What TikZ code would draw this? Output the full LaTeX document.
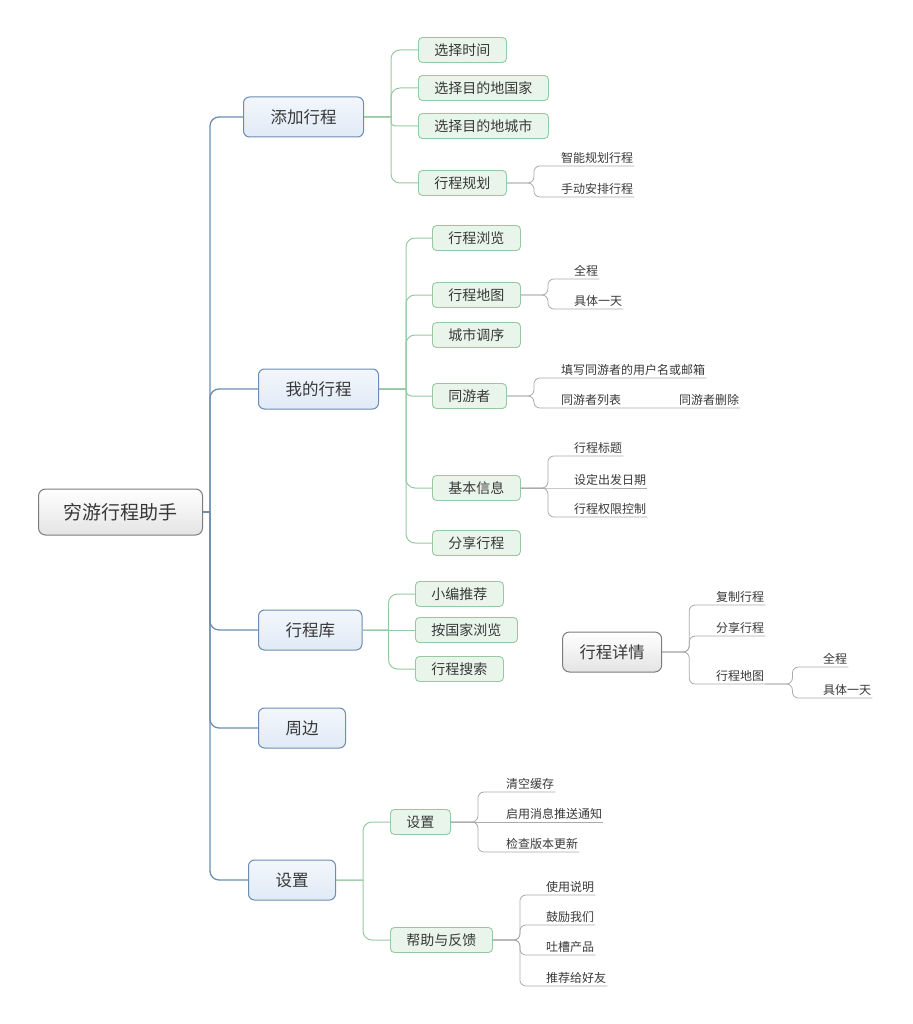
\documentclass[tikz,border=0pt]{standalone}
\usepackage{fontspec}
\setmainfont{Noto Sans CJK SC}
\usepackage{tikz}
\definecolor{txt}{HTML}{383838}
\definecolor{rootline}{HTML}{7C7C7C}
\definecolor{rootfill}{HTML}{E4E4E4}
\definecolor{mainline}{HTML}{6A8DB1}
\definecolor{mainfill}{HTML}{E0EAF6}
\definecolor{subline}{HTML}{96C9A1}
\definecolor{subfill}{HTML}{E9F5EB}
\definecolor{leafline}{HTML}{ABABAB}

\begin{document}
\begin{tikzpicture}[x=1pt, y=-1pt,
        rootbox/.style = {draw=rootline, line width=1pt, rounded corners=7pt, top color=white, bottom color=rootfill, text=txt, anchor=west, minimum height=46pt, inner xsep=25pt, font=\fontsize{19}{22}\selectfont},
        main/.style = {draw=mainline, line width=1pt, rounded corners=6pt, top color=mainfill!40!white, bottom color=mainfill, text=txt, anchor=west, minimum height=40pt, inner xsep=27pt, font=\fontsize{16.5}{20}\selectfont},
        subbox/.style = {draw=subline, line width=0.9pt, rounded corners=4pt, fill=subfill, text=txt, anchor=west, minimum height=25pt, inner xsep=16pt, font=\fontsize{14}{16}\selectfont},
        leaf/.style = {text=txt, anchor=south west, inner xsep=1pt, inner ysep=2pt, font=\fontsize{12}{14}\selectfont},
        trunkline/.style = {draw=mainline, line width=1.3pt},
        subedge/.style = {draw=subline, line width=1pt},
        leafedge/.style = {draw=leafline, line width=0.8pt, rounded corners=6pt}]
                \useasboundingbox (0,0) rectangle (912,1024);
                \node[rootbox] (0) at (38,512) {穷游行程助手};
                \node[main] (1) at (243,117) {添加行程};
                \node[main] (2) at (258,389) {我的行程};
                \node[main] (3) at (258,630) {行程库};
                \node[main] (4) at (258,728) {周边};
                \node[main] (5) at (248,880) {设置};
                \node[rootbox, inner xsep=17pt, minimum height=40pt, font=\fontsize{16.3}{20}\selectfont] (6) at (562,652) {行程详情};
                \node[subbox] (11) at (418,50) {选择时间};
                \node[subbox] (12) at (418,88) {选择目的地国家};
                \node[subbox] (13) at (418,126) {选择目的地城市};
                \node[subbox] (14) at (418,183) {行程规划};
                \node[subbox] (21) at (432,238) {行程浏览};
                \node[subbox] (22) at (432,295) {行程地图};
                \node[subbox] (23) at (432,335) {城市调序};
                \node[subbox] (24) at (432,396) {同游者};
                \node[subbox] (25) at (432,488) {基本信息};
                \node[subbox] (26) at (432,543) {分享行程};
                \node[subbox] (31) at (415,594) {小编推荐};
                \node[subbox] (32) at (415,630) {按国家浏览};
                \node[subbox] (33) at (415,669) {行程搜索};
                \node[subbox] (51) at (390,822) {设置};
                \node[subbox] (52) at (390,940) {帮助与反馈};
                \node[leaf] (141) at (560,166) {智能规划行程};
                \node[leaf] (142) at (560,197) {手动安排行程};
                \node[leaf] (221) at (573,279) {全程};
                \node[leaf] (222) at (573,309) {具体一天};
                \node[leaf] (241) at (560,378) {填写同游者的用户名或邮箱};
                \node[leaf] (242) at (560,408) {同游者列表};
                \node[leaf] (243) at (678,408) {同游者删除};
                \node[leaf] (251) at (573,456) {行程标题};
                \node[leaf] (252) at (573,488) {设定出发日期};
                \node[leaf] (253) at (573,517) {行程权限控制};
                \node[leaf] (511) at (505,792) {清空缓存};
                \node[leaf] (512) at (505,822) {启用消息推送通知};
                \node[leaf] (513) at (505,852) {检查版本更新};
                \node[leaf] (521) at (545,895) {使用说明};
                \node[leaf] (522) at (545,925) {鼓励我们};
                \node[leaf] (523) at (545,955) {吐槽产品};
                \node[leaf] (524) at (545,986) {推荐给好友};
                \node[leaf] (61) at (715,605) {复制行程};
                \node[leaf] (62) at (715,636) {分享行程};
                \node[leaf] (63) at (715,684) {行程地图};
                \node[leaf] (631) at (822,667) {全程};
                \node[leaf] (632) at (822,698) {具体一天};
                \draw[trunkline] (0.east) -- ++(7,0) [rounded corners=9pt] |- (1.west);
                \draw[trunkline] (0.east) -- ++(7,0) [rounded corners=9pt] |- (2.west);
                \draw[trunkline] (0.east) -- ++(7,0) [rounded corners=9pt] |- (3.west);
                \draw[trunkline] (0.east) -- ++(7,0) [rounded corners=9pt] |- (4.west);
                \draw[trunkline] (0.east) -- ++(7,0) [rounded corners=9pt] |- (5.west);
                \draw[subedge] (1.east) -- ++(27,0) [rounded corners=9pt] |- (11.west);
                \draw[subedge] (1.east) -- ++(27,0) [rounded corners=9pt] |- (12.west);
                \draw[subedge] (1.east) -- ++(27,0) [rounded corners=4pt] |- (13.west);
                \draw[subedge] (1.east) -- ++(27,0) [rounded corners=9pt] |- (14.west);
                \draw[subedge] (2.east) -- ++(27,0) [rounded corners=9pt] |- (21.west);
                \draw[subedge] (2.east) -- ++(27,0) [rounded corners=9pt] |- (22.west);
                \draw[subedge] (2.east) -- ++(27,0) [rounded corners=9pt] |- (23.west);
                \draw[subedge] (2.east) -- ++(27,0) [rounded corners=5pt] |- (24.west);
                \draw[subedge] (2.east) -- ++(27,0) [rounded corners=9pt] |- (25.west);
                \draw[subedge] (2.east) -- ++(27,0) [rounded corners=9pt] |- (26.west);
                \draw[subedge] (3.east) -- ++(26,0) [rounded corners=9pt] |- (31.west);
                \draw[subedge] (3.east) -- (32.west);
                \draw[subedge] (3.east) -- ++(26,0) [rounded corners=9pt] |- (33.west);
                \draw[subedge] (5.east) -- ++(27,0) [rounded corners=9pt] |- (51.west);
                \draw[subedge] (5.east) -- ++(27,0) [rounded corners=9pt] |- (52.west);
                \draw[leafedge] (14.east) -- ++(27,0) |- (141.south west) -- (141.south east);
                \draw[leafedge] (14.east) -- ++(27,0) |- (142.south west) -- (142.south east);
                \draw[leafedge] (22.east) -- ++(27,0) |- (221.south west) -- (221.south east);
                \draw[leafedge] (22.east) -- ++(27,0) |- (222.south west) -- (222.south east);
                \draw[leafedge] (24.east) -- ++(27,0) |- (241.south west) -- (241.south east);
                \draw[leafedge] (24.east) -- ++(27,0) |- (242.south west) -- (242.south east) -- (243.south west) -- (243.south east);
                \draw[leafedge] (25.east) -- ++(27,0) |- (251.south west) -- (251.south east);
                \draw[leafedge] (25.east) -- (252.south west) -- (252.south east);
                \draw[leafedge] (25.east) -- ++(27,0) |- (253.south west) -- (253.south east);
                \draw[leafedge] (51.east) -- ++(27,0) |- (511.south west) -- (511.south east);
                \draw[leafedge] (51.east) -- (512.south west) -- (512.south east);
                \draw[leafedge] (51.east) -- ++(27,0) |- (513.south west) -- (513.south east);
                \draw[leafedge] (52.east) -- ++(27,0) |- (521.south west) -- (521.south east);
                \draw[leafedge] (52.east) -- ++(27,0) |- (522.south west) -- (522.south east);
                \draw[leafedge] (52.east) -- ++(27,0) |- (523.south west) -- (523.south east);
                \draw[leafedge] (52.east) -- ++(27,0) |- (524.south west) -- (524.south east);
                \draw[leafedge] (6.east) -- ++(27,0) |- (61.south west) -- (61.south east);
                \draw[leafedge] (6.east) -- ++(27,0) |- (62.south west) -- (62.south east);
                \draw[leafedge] (6.east) -- ++(27,0) |- (63.south west) -- (63.south east);
                \draw[leafedge] (63.south east) -- ++(27,0) |- (631.south west) -- (631.south east);
                \draw[leafedge] (63.south east) -- ++(27,0) |- (632.south west) -- (632.south east);
            \end{tikzpicture}
\end{document}
